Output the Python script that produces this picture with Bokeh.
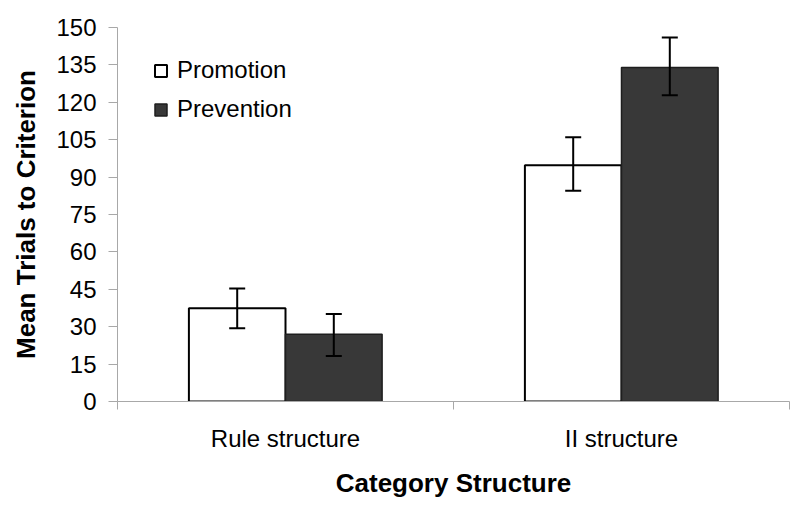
from bokeh.plotting import figure
from bokeh.models import (Range1d, FixedTicker, ColumnDataSource, Whisker, TeeHead,
                          Legend, LegendItem)
from bokeh.embed import file_html
from bokeh.resources import INLINE

# ---- data ----
categories = ["Rule structure", "II structure"]
series = ["Promotion", "Prevention"]
promotion = [37.4, 94.8]
prevention = [27.0, 134.0]
promotion_err_low = [29.4, 84.5]
promotion_err_high = [45.3, 106.0]
prevention_err_low = [18.2, 122.8]
prevention_err_high = [35.1, 146.0]
y_ticks = list(range(0, 151, 15))

FONT = "Liberation Sans"
AXIS_GRAY = "#a8a8a8"

centers = [i + 0.5 for i in range(len(categories))]
bar_w = 0.2875

p = figure(output_backend="svg", toolbar_location=None,
           x_range=Range1d(0, len(categories)), y_range=Range1d(0, 150),
           frame_width=672, frame_height=374,
           min_border_left=117, min_border_right=1, min_border_top=27, min_border_bottom=97)
p.outline_line_color = None
p.xgrid.visible = False
p.ygrid.visible = False

src_promo = ColumnDataSource(dict(x=[c - bar_w / 2 for c in centers], top=promotion,
                                  lo=promotion_err_low, hi=promotion_err_high))
src_prev = ColumnDataSource(dict(x=[c + bar_w / 2 for c in centers], top=prevention,
                                 lo=prevention_err_low, hi=prevention_err_high))

r1 = p.vbar(x="x", top="top", width=bar_w, bottom=0, source=src_promo,
            fill_color="white", line_color="black", line_width=2)
r2 = p.vbar(x="x", top="top", width=bar_w, bottom=0, source=src_prev,
            fill_color="#383838", line_color="#1e1e1e", line_width=1.5)

for s in (src_promo, src_prev):
    w = Whisker(base="x", lower="lo", upper="hi", source=s, dimension="height",
                line_color="black", line_width=2, level="overlay",
                upper_head=TeeHead(size=16, line_width=2, line_color="black"),
                lower_head=TeeHead(size=16, line_width=2, line_color="black"))
    p.add_layout(w)

# y axis
ya = p.yaxis[0]
ya.ticker = FixedTicker(ticks=y_ticks, minor_ticks=[])
ya.axis_line_color = AXIS_GRAY
ya.major_tick_line_color = AXIS_GRAY
ya.major_tick_out = 9
ya.major_tick_in = 0
ya.major_label_text_font = FONT
ya.major_label_text_font_size = "24px"
ya.major_label_text_color = "black"
ya.major_label_standoff = 12
ya.axis_label = "Mean Trials to Criterion"
ya.axis_label_text_font = FONT
ya.axis_label_text_font_size = "26px"
ya.axis_label_text_font_style = "bold"
ya.axis_label_text_color = "black"
ya.axis_label_standoff = 12

# x axis: labels at category centers, ticks at category boundaries
xa = p.xaxis[0]
xa.ticker = FixedTicker(ticks=centers, minor_ticks=list(range(len(categories) + 1)))
xa.major_label_overrides = {c: lab for c, lab in zip(centers, categories)}
xa.axis_line_color = AXIS_GRAY
xa.major_tick_line_color = None
xa.major_tick_out = 0
xa.major_tick_in = 0
xa.minor_tick_line_color = AXIS_GRAY
xa.minor_tick_out = 8
xa.minor_tick_in = 0
xa.major_label_text_font = FONT
xa.major_label_text_font_size = "24px"
xa.major_label_text_color = "black"
xa.major_label_standoff = 15
xa.axis_label = "Category Structure"
xa.axis_label_text_font = FONT
xa.axis_label_text_font_size = "26px"
xa.axis_label_text_font_style = "bold"
xa.axis_label_text_color = "black"
xa.axis_label_standoff = 13

legend = Legend(items=[LegendItem(label=series[0], renderers=[r1]),
                       LegendItem(label=series[1], renderers=[r2])],
                location=(36, 278), orientation="vertical",
                glyph_width=15, glyph_height=15, label_standoff=9,
                label_text_font=FONT, label_text_font_size="24px",
                label_text_color="black",
                spacing=11, padding=0, margin=0,
                background_fill_alpha=0, border_line_alpha=0)
p.add_layout(legend)

open("out.html", "w").write(file_html(p, INLINE))
